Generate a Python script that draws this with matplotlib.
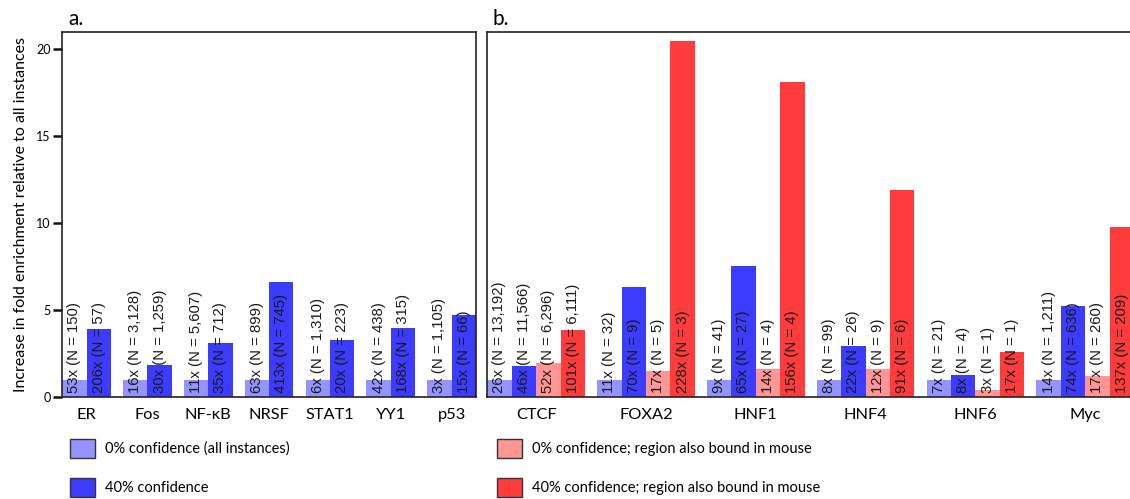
import numpy as np
import matplotlib.pyplot as plt
from matplotlib.patches import Patch

# colours for the four series
c_all = '#9494ff'
c_40 = '#3c3cff'
c_m_all = '#ff9696'
c_m_40 = '#ff3c3c'

# panel a data
tf_a = ['ER', 'Fos', 'NF-κB', 'NRSF', 'STAT1', 'YY1', 'p53']
a_all = [1, 1, 1, 1, 1, 1, 1]
a_40 = [3.9, 1.84, 3.09, 6.61, 3.28, 3.97, 4.71]
a_all_lbl = ['53x (N = 150)', '16x (N = 3,128)', '11x (N = 5,607)', '63x (N = 899)',
             '6x (N = 1,310)', '42x (N = 438)', '3x (N = 1,105)']
a_40_lbl = ['206x (N = 57)', '30x (N = 1,259)', '35x (N = 712)', '413x (N = 745)',
            '20x (N = 223)', '168x (N = 315)', '15x (N = 66)']

# panel b data
tf_b = ['CTCF', 'FOXA2', 'HNF1', 'HNF4', 'HNF6', 'Myc']
b_all = [1, 1, 1, 1, 1, 1]
b_40 = [1.78, 6.32, 7.53, 2.93, 1.26, 5.23]
b_m_all = [1.95, 1.49, 1.63, 1.63, 0.4, 1.21]
b_m_40 = [3.85, 20.46, 18.1, 11.9, 2.6, 9.77]
b_all_lbl = ['26x (N = 13,192)', '11x (N = 32)', '9x (N = 41)', '8x (N = 99)',
             '7x (N = 21)', '14x (N = 1,211)']
b_40_lbl = ['46x (N = 11,566)', '70x (N = 9)', '65x (N = 27)', '22x (N = 26)',
            '8x (N = 4)', '74x (N = 636)']
b_m_all_lbl = ['52x (N = 6,296)', '17x (N = 5)', '14x (N = 4)', '12x (N = 9)',
               '3x (N = 1)', '17x (N = 260)']
b_m_40_lbl = ['101x (N = 6,111)', '228x (N = 3)', '156x (N = 4)', '91x (N = 6)',
              '17x (N = 1)', '137x (N = 209)']

label_font = 'Lato'
bar_font = 'Liberation Sans'
spine_col = '#222222'
gap = 0.5


def draw_panel(ax, names, series, labels, colors):
    nb = len(series)
    starts = np.arange(len(names)) * (nb + gap)
    for j, (vals, lbls, col) in enumerate(zip(series, labels, colors)):
        x = starts + j + 0.5
        ax.bar(x, vals, width=1.0, color=col, edgecolor='none')
        for xi, t in zip(x, lbls):
            ax.text(xi, 0.25, t, rotation=90, ha='center', va='bottom',
                    fontsize=10.7, family=bar_font, color='#1a1a1a')
    ax.set_xticks(starts + nb / 2)
    ax.set_xticklabels(names, family=label_font, fontsize=11.8)
    ax.tick_params(axis='x', length=0, pad=8)
    ax.set_xlim(0, starts[-1] + nb)
    ax.set_ylim(0, 21)
    for s in ax.spines.values():
        s.set_color(spine_col)
        s.set_linewidth(1.2)


fig = plt.figure(figsize=(11.3, 4.99), dpi=100)
W, H = 1130, 499

ax_a = fig.add_axes([62.3 / W, 1 - 397 / H, (476 - 62.3) / W, 365 / H])
ax_b = fig.add_axes([487.3 / W, 1 - 397 / H, 26.5 * 24.4 / W, 365 / H])

draw_panel(ax_a, tf_a, [a_all, a_40], [a_all_lbl, a_40_lbl], [c_all, c_40])
draw_panel(ax_b, tf_b, [b_all, b_40, b_m_all, b_m_40],
           [b_all_lbl, b_40_lbl, b_m_all_lbl, b_m_40_lbl],
           [c_all, c_40, c_m_all, c_m_40])

ax_a.set_yticks([0, 5, 10, 15, 20])
ax_a.tick_params(axis='y', length=6.5, width=1.8, color='#111111', labelsize=9, pad=2)
for t in ax_a.get_yticklabels():
    t.set_family(label_font)
ax_a.set_ylabel('Increase in fold enrichment relative to all instances',
                family=label_font, fontsize=11.5, labelpad=6)

ax_b.set_yticks([])
ax_b.spines['right'].set_visible(False)

fig.text(68 / W, 1 - 19 / H, 'a.', family=label_font, fontsize=15, va='center')
fig.text(493 / W, 1 - 19 / H, 'b.', family=label_font, fontsize=15, va='center')

# legends, one per column
leg_kw = dict(frameon=False, loc='upper left', borderpad=0, borderaxespad=0,
              handlelength=1.7, handleheight=1.6, handletextpad=0.7,
              labelspacing=1.4, prop={'family': label_font, 'size': 10.5})
h1 = [Patch(facecolor=c_all, edgecolor='#333333', linewidth=1),
      Patch(facecolor=c_40, edgecolor='#333333', linewidth=1)]
h2 = [Patch(facecolor=c_m_all, edgecolor='#333333', linewidth=1),
      Patch(facecolor=c_m_40, edgecolor='#333333', linewidth=1)]
fig.legend(h1, ['0% confidence (all instances)', '40% confidence'],
           bbox_to_anchor=(70 / W, 1 - 439 / H), **leg_kw)
fig.legend(h2, ['0% confidence; region also bound in mouse',
                '40% confidence; region also bound in mouse'],
           bbox_to_anchor=(497 / W, 1 - 439 / H), **leg_kw)

fig.savefig('out.png', dpi=100)
